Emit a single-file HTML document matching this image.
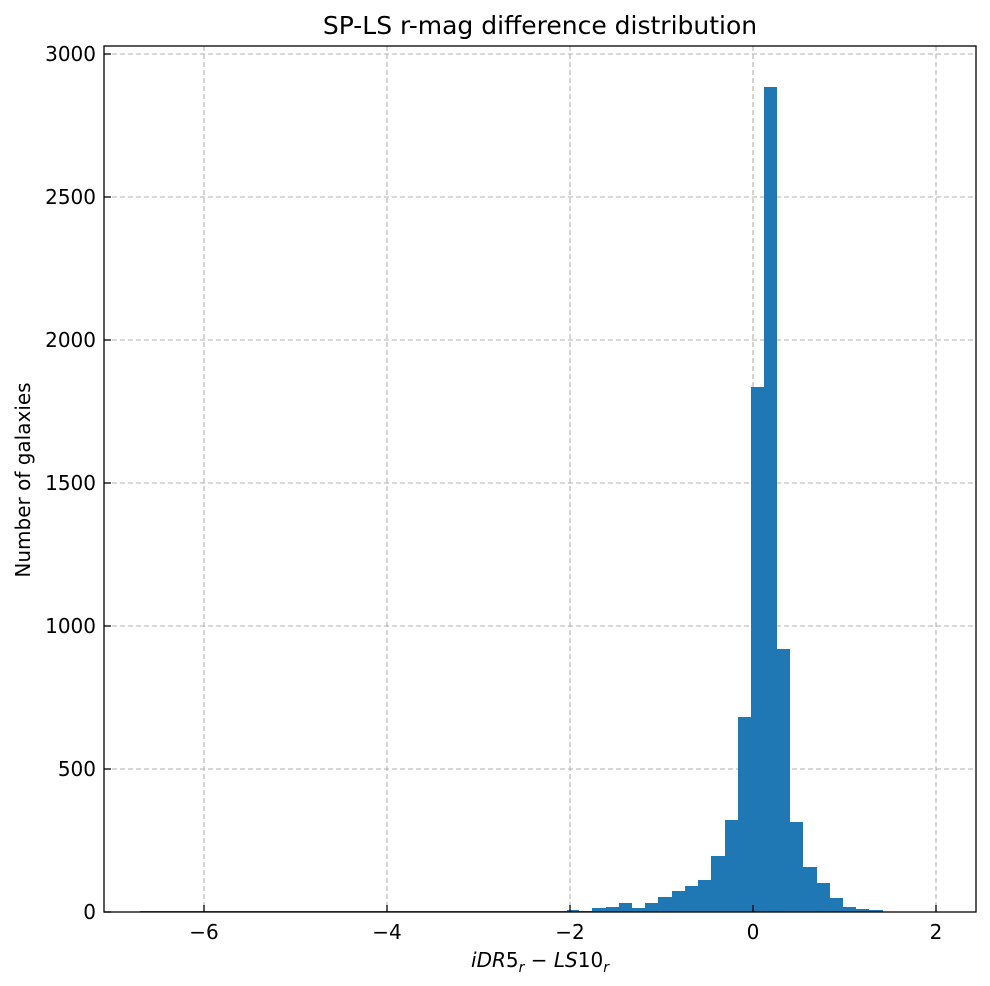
<!DOCTYPE html>
<html><head><style>body{margin:0;background:#fff}svg{display:block}text{font-family:"DejaVu Sans","Liberation Sans",sans-serif;fill:#000}</style></head><body>
<svg width="990" height="986" viewBox="0 0 990 986" xmlns="http://www.w3.org/2000/svg">
<rect width="990" height="986" fill="#fff"/>
<g stroke="#b0b0b0" stroke-width="1.1" stroke-dasharray="5,3">
<line x1="204" y1="46" x2="204" y2="912"/><line x1="387" y1="46" x2="387" y2="912"/><line x1="570" y1="46" x2="570" y2="912"/><line x1="753" y1="46" x2="753" y2="912"/><line x1="936" y1="46" x2="936" y2="912"/>
<line x1="104" y1="769" x2="976" y2="769"/><line x1="104" y1="626" x2="976" y2="626"/><line x1="104" y1="483" x2="976" y2="483"/><line x1="104" y1="340" x2="976" y2="340"/><line x1="104" y1="197" x2="976" y2="197"/><line x1="104" y1="54" x2="976" y2="54"/>
</g>
<g fill="#1f77b4">
<rect x="140" y="911" width="452" height="1"/>
<rect x="567" y="910" width="12" height="2"/>
<rect x="592" y="908" width="14" height="4"/>
<rect x="606" y="907" width="13" height="5"/>
<rect x="619" y="903" width="13" height="9"/>
<rect x="632" y="908" width="13" height="4"/>
<rect x="645" y="903" width="13" height="9"/>
<rect x="658" y="897" width="14" height="15"/>
<rect x="672" y="891" width="13" height="21"/>
<rect x="685" y="886" width="13" height="26"/>
<rect x="698" y="880" width="13" height="32"/>
<rect x="711" y="856" width="14" height="56"/>
<rect x="725" y="820" width="13" height="92"/>
<rect x="738" y="717" width="13" height="195"/>
<rect x="751" y="387" width="13" height="525"/>
<rect x="764" y="87" width="13" height="825"/>
<rect x="777" y="649" width="13" height="263"/>
<rect x="790" y="822" width="13" height="90"/>
<rect x="803" y="867" width="14" height="45"/>
<rect x="817" y="883" width="13" height="29"/>
<rect x="830" y="898" width="13" height="14"/>
<rect x="843" y="907" width="13" height="5"/>
<rect x="856" y="909" width="13" height="3"/>
<rect x="869" y="910" width="14" height="2"/>
</g>
<rect x="104" y="46" width="872" height="866" fill="none" stroke="#000" stroke-width="1.3"/>
<g stroke="#000" stroke-width="1.3">
<line x1="204" y1="912" x2="204" y2="905"/><line x1="387" y1="912" x2="387" y2="905"/><line x1="570" y1="912" x2="570" y2="905"/><line x1="753" y1="912" x2="753" y2="905"/><line x1="936" y1="912" x2="936" y2="905"/>
<line x1="104" y1="769" x2="111" y2="769"/><line x1="104" y1="626" x2="111" y2="626"/><line x1="104" y1="483" x2="111" y2="483"/><line x1="104" y1="340" x2="111" y2="340"/><line x1="104" y1="197" x2="111" y2="197"/><line x1="104" y1="54" x2="111" y2="54"/><line x1="104" y1="912" x2="111" y2="912"/>
</g>
<g font-size="20" text-anchor="middle">
<text x="204" y="939">−6</text><text x="387" y="939">−4</text><text x="570" y="939">−2</text><text x="753" y="939">0</text><text x="936" y="939">2</text>
</g>
<g font-size="20" text-anchor="end">
<text x="96" y="919">0</text><text x="96" y="776">500</text><text x="96" y="633">1000</text><text x="96" y="490">1500</text><text x="96" y="347">2000</text><text x="96" y="204">2500</text><text x="96" y="61">3000</text>
</g>
<text x="540" y="34" font-size="25" text-anchor="middle">SP-LS r-mag difference distribution</text>
<text transform="translate(30,480) rotate(-90)" font-size="20" text-anchor="middle">Number of galaxies</text>
<text x="540" y="967" font-size="20" text-anchor="middle"><tspan font-style="italic">iDR</tspan>5<tspan font-style="italic" font-size="14" dy="5">r</tspan><tspan dy="-5"> − </tspan><tspan font-style="italic">LS</tspan>10<tspan font-style="italic" font-size="14" dy="5">r</tspan></text>
</svg>
</body></html>
